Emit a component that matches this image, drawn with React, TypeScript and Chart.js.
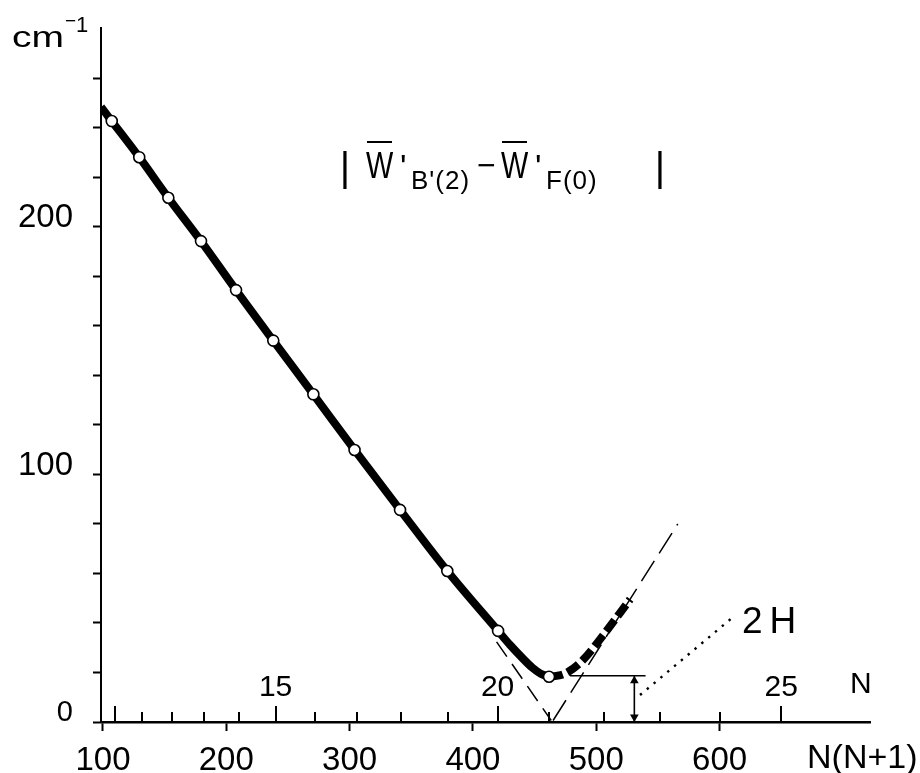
import React, { useEffect, useRef } from 'react';
import { Chart, registerables } from 'chart.js';

Chart.register(...registerables);

const FONT = '"Liberation Sans", Arial, sans-serif';

// measured points (open circles): x = N(N+1), y = |W'B'(2) - W'F(0)| in cm^-1
const circleX = [107.1, 129.4, 153.0, 179.5, 207.9, 238.1, 270.6, 304.0, 340.9, 379.2, 420.4, 461.7];
const circleY = [242.8, 228.2, 211.8, 194.3, 174.5, 154.1, 132.4, 109.9, 85.7, 61.0, 36.8, 18.3];

// thick solid curve
const curveX = [98.4, 107.1, 129.4, 153.0, 179.5, 207.9, 238.1, 270.6, 304.0, 340.9, 379.2, 420.4, 430.0, 440.0, 448.0, 455.0, 461.7];
const curveY = [248.5, 242.8, 228.2, 211.8, 194.3, 174.5, 154.1, 132.4, 109.9, 85.7, 61.0, 36.8, 31.2, 25.9, 22.0, 19.5, 18.3];

// thick dashed continuation
const risingX = [461.7, 470.0, 477.1, 489.3, 507.1, 527.5];
const risingY = [18.3, 18.8, 20.2, 25.1, 36.0, 49.6];

// thin dashed asymptotes
const asymLeftX = [419.2, 463.5];
const asymLeftY = [32.4, 0.6];
const asymRightX = [465.0, 566.1];
const asymRightY = [0.6, 80.0];

// 2H construction
const levelX = [478.7, 540.0];
const levelY = [18.7, 18.7];
const arrowX = [530.9, 530.9];
const arrowY = [0.3, 18.7];
const arrowHeadY = [2.0, 16.7];
const dotX = [535.5, 611.2];
const dotY = [10.9, 42.5];

// axes
const xTicks = [100, 200, 300, 400, 500, 600];
const yTicks = [0, 20, 40, 60, 80, 100, 120, 140, 160, 180, 200, 220, 240, 260];
const yLabeled = [0, 100, 200];
const nTicks = [10, 11, 12, 13, 14, 15, 16, 17, 18, 19, 20, 21, 22, 23, 24, 25];
const nLabeled = [15, 20, 25];

const pts = (xs: number[], ys: number[]) => xs.map((x, i) => ({ x, y: ys[i] }));

const decorations = {
  id: 'decorations',
  afterDraw(chart: any) {
    const ctx: CanvasRenderingContext2D = chart.ctx;
    const xs = chart.scales.x;
    const ys = chart.scales.y;
    const y0 = ys.getPixelForValue(0);
    ctx.save();
    ctx.strokeStyle = '#000';
    ctx.fillStyle = '#000';
    ctx.lineWidth = 2;
    // N ticks above the axis
    nTicks.forEach((n) => {
      const px = Math.round(xs.getPixelForValue(n * (n + 1)));
      const len = n % 5 === 0 ? 16 : 10;
      ctx.beginPath();
      ctx.moveTo(px, y0);
      ctx.lineTo(px, y0 - len);
      ctx.stroke();
    });
    ctx.textBaseline = 'alphabetic';
    ctx.font = `30px ${FONT}`;
    ctx.textAlign = 'center';
    nLabeled.forEach((n) => {
      ctx.fillText(String(n), xs.getPixelForValue(n * (n + 1)), y0 - 26);
    });
    ctx.textAlign = 'left';
    ctx.fillText('N', 850, y0 - 29);

    ctx.font = `34px ${FONT}`;
    ctx.fillText('N(N+1)', 807, 768);

    // y unit cm^-1
    ctx.save();
    ctx.font = `30px ${FONT}`;
    ctx.translate(12, 47);
    ctx.scale(1.3, 1);
    ctx.fillText('cm', 0, 0);
    ctx.restore();
    ctx.font = `19px ${FONT}`;
    ctx.fillText('\u2212', 65, 27);
    ctx.font = `22px ${FONT}`;
    ctx.fillText('1', 76, 32);

    // formula |W'B'(2) - W'F(0)|
    const base = 178;
    const subBase = 189;
    ctx.font = `40px ${FONT}`;
    ctx.textAlign = 'center';
    ctx.fillText('|', 345, base + 3);
    ctx.fillText('|', 660, base + 3);
    const drawW = (x: number) => {
      ctx.save();
      ctx.font = `37px ${FONT}`;
      ctx.textAlign = 'left';
      ctx.translate(x, base);
      ctx.scale(0.78, 1);
      ctx.fillText('W', 0, 0);
      ctx.restore();
      ctx.beginPath();
      ctx.moveTo(x + 1, 142);
      ctx.lineTo(x + 26, 142);
      ctx.stroke();
      ctx.font = `34px ${FONT}`;
      ctx.textAlign = 'left';
      ctx.fillText("'", x + 34, base);
    };
    drawW(366);
    drawW(501);
    ctx.textAlign = 'left';
    ctx.font = `26px ${FONT}`;
    (ctx as any).letterSpacing = '1px';
    ctx.fillText("B'(2)", 411, subBase);
    ctx.fillText('F(0)', 546, subBase);
    (ctx as any).letterSpacing = '0px';
    ctx.font = `32px ${FONT}`;
    ctx.fillText('\u2212', 477, base - 2);

    // 2H label
    ctx.font = `37px ${FONT}`;
    (ctx as any).letterSpacing = '7px';
    ctx.fillText('2H', 742, 633);
    ctx.restore();
  },
};

const noPad = (ax: any) => {
  ax.paddingTop = 0;
  ax.paddingBottom = 0;
  ax.paddingLeft = 0;
  ax.paddingRight = 0;
};

export default function App() {
  const ref = useRef<HTMLCanvasElement>(null);
  useEffect(() => {
    const black = '#000';
    const chart = new Chart(ref.current as HTMLCanvasElement, {
      type: 'line',
      data: {
        datasets: [
          {
            data: pts(circleX, circleY),
            showLine: false,
            pointRadius: 5.5,
            pointBorderWidth: 1.6,
            pointBackgroundColor: '#fff',
            pointBorderColor: black,
          } as any,
          {
            data: pts(arrowX, arrowHeadY),
            showLine: false,
            pointStyle: 'triangle',
            pointRotation: [180, 0],
            pointRadius: 5,
            pointBorderWidth: 0,
            pointBackgroundColor: black,
          } as any,
          {
            data: pts(arrowX, arrowY),
            borderColor: black,
            borderWidth: 1.6,
            pointRadius: 0,
          },
          {
            data: pts(levelX, levelY),
            borderColor: black,
            borderWidth: 1.6,
            pointRadius: 0,
          },
          {
            data: pts(dotX, dotY),
            borderColor: black,
            borderWidth: 2.4,
            borderDash: [2.4, 6.5],
            pointRadius: 0,
          },
          {
            data: pts(curveX, curveY),
            borderColor: black,
            borderWidth: 8,
            pointRadius: 0,
            cubicInterpolationMode: 'monotone',
          },
          {
            data: pts(risingX, risingY),
            borderColor: black,
            borderWidth: 8,
            borderDash: [14, 5],
            pointRadius: 0,
            cubicInterpolationMode: 'monotone',
          },
          {
            data: pts(asymLeftX, asymLeftY),
            borderColor: black,
            borderWidth: 1.5,
            borderDash: [18, 9],
            pointRadius: 0,
          },
          {
            data: pts(asymRightX, asymRightY),
            borderColor: black,
            borderWidth: 1.5,
            borderDash: [24, 9],
            pointRadius: 0,
          },
        ],
      },
      options: {
        animation: false,
        responsive: false,
        devicePixelRatio: 1,
        layout: { padding: { top: 28, right: 50, left: 0, bottom: 0 } },
        plugins: {
          legend: { display: false },
          tooltip: { enabled: false },
          title: { display: false },
        },
        scales: {
          x: {
            type: 'linear',
            min: 98.4,
            max: 722,
            afterBuildTicks: (ax: any) => {
              ax.ticks = xTicks.map((v) => ({ value: v }));
            },
            afterFit: (ax: any) => {
              ax.height = 51;
              noPad(ax);
            },
            ticks: {
              color: black,
              font: { family: FONT, size: 33 },
              padding: 10,
              maxRotation: 0,
              autoSkip: false,
              callback: (v: any) => String(v),
            },
            grid: {
              drawOnChartArea: false,
              drawTicks: true,
              tickLength: 9,
              tickWidth: 2,
              tickColor: black,
            },
            border: { display: true, color: black, width: 2.4 },
          },
          y: {
            type: 'linear',
            min: 0,
            max: 280.4,
            afterBuildTicks: (ax: any) => {
              ax.ticks = yTicks.map((v) => ({ value: v }));
            },
            afterFit: (ax: any) => {
              ax.width = 101;
              noPad(ax);
            },
            ticks: {
              color: black,
              font: (c: any) => ({ family: FONT, size: c.tick && c.tick.value === 0 ? 29 : 33 }),
              padding: 20,
              labelOffset: -9,
              autoSkip: false,
              callback: (v: any) => (yLabeled.includes(Number(v)) ? String(v) : ''),
            },
            grid: {
              drawOnChartArea: false,
              drawTicks: true,
              tickLength: 8,
              tickWidth: 2,
              tickColor: black,
            },
            border: { display: true, color: black, width: 2 },
          },
        },
      },
      plugins: [decorations],
    } as any);
    return () => chart.destroy();
  }, []);
  return (
    <div style={{ position: 'fixed', left: 0, top: 0, width: 920, height: 773, background: '#fff' }}>
      <canvas ref={ref} width={920} height={773} style={{ display: 'block', width: 920, height: 773 }} />
    </div>
  );
}
